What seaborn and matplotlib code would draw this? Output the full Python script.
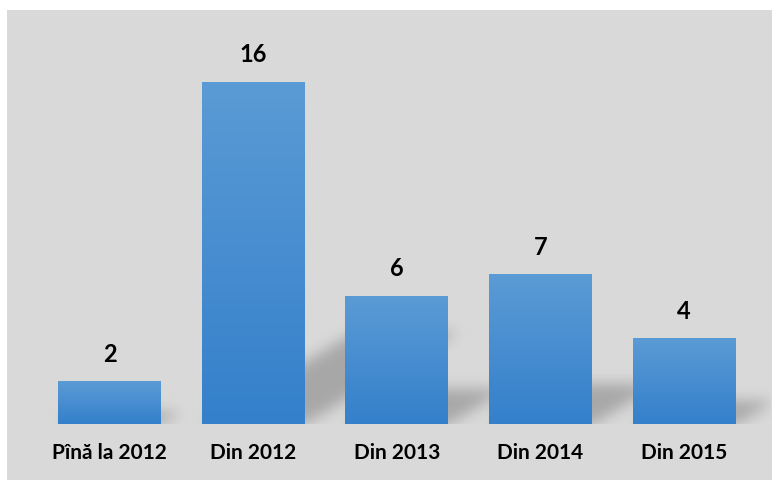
import numpy as np
import pandas as pd
import matplotlib
matplotlib.use("Agg")
import matplotlib.pyplot as plt
import seaborn as sns
from matplotlib.patches import Rectangle
from matplotlib.path import Path
from matplotlib.colors import LinearSegmentedColormap

categories = ["Pînă la 2012", "Din 2012", "Din 2013", "Din 2014", "Din 2015"]
values = [2, 16, 6, 7, 4]

df = pd.DataFrame({"cat": categories, "val": values})

sns.set_theme(style="white")
plt.rcParams["font.family"] = ["Lato", "DejaVu Sans"]

W, H = 772, 481
fig = plt.figure(figsize=(W / 100, H / 100), dpi=100, facecolor="white")
# grey panel
panel = Rectangle((7 / W, 0), 1 - 7 / W, (H - 11) / H,
                  transform=fig.transFigure, facecolor="#d9d9d9",
                  edgecolor="none", zorder=-5)
fig.add_artist(panel)

ax_l, ax_r = 37.7, 755.8
ax_top, ax_bot = 11, 425
ax = fig.add_axes([ax_l / W, (H - ax_bot) / H, (ax_r - ax_l) / W, (ax_bot - ax_top) / H])
ax.set_facecolor("none")
ax.set_zorder(1)

px_per_unit = 21.4
ymax = (ax_bot - ax_top) / px_per_unit
n = len(categories)

sns.barplot(data=df, x="cat", y="val", ax=ax, width=0.717, color="#5b9bd5",
            saturation=1, zorder=3)
ax.set_xlim(-0.5, n - 0.5)
ax.set_ylim(0, ymax)

# gradient fill of bars
cmap = LinearSegmentedColormap.from_list("g", ["#3480cb", "#5b9bd5"])
grad = np.linspace(0, 1, 256).reshape(-1, 1)
for p in list(ax.patches):
    x0, y0 = p.get_x(), p.get_y()
    w, h = p.get_width(), p.get_height()
    im = ax.imshow(grad, cmap=cmap, origin="lower", aspect="auto",
                   extent=(x0, x0 + w, y0, y0 + h), zorder=3)
    im.set_clip_path(p)
    p.set_facecolor("none")
    p.set_edgecolor("none")

# soft cast shadows (extend a little beyond the axes on the right)
cat_px = (ax_r - ax_l) / n
extra_px = 14
x_hi = n - 0.5 + extra_px / cat_px
nx = int(round(ax_r - ax_l + extra_px))
ny = int(round(ax_bot - ax_top))
xs = -0.5 + (np.arange(nx) + 0.5) / nx * (x_hi + 0.5)
ys = ymax * (1 - (np.arange(ny) + 0.5) / ny)
XX, YY = np.meshgrid(xs, ys)
pts = np.column_stack([XX.ravel(), YY.ravel()])
mask = np.zeros(XX.shape)
for p in ax.patches:
    x0, w, h = p.get_x(), p.get_width(), p.get_height()
    dx = 0.45 * h * px_per_unit / cat_px
    dy = 0.27 * h
    poly = Path([(x0, 0), (x0 + w, 0), (x0 + w + dx, dy), (x0 + dx, dy), (x0, 0)])
    mask = np.maximum(mask, poly.contains_points(pts).reshape(XX.shape).astype(float))
sig = 7
k = np.exp(-0.5 * (np.arange(-3 * sig, 3 * sig + 1) / sig) ** 2)
k /= k.sum()
mask = np.apply_along_axis(lambda r: np.convolve(r, k, mode="same"), 1, mask)
mask = np.apply_along_axis(lambda c: np.convolve(c, k, mode="same"), 0, mask)
rgba = np.zeros(mask.shape + (4,))
rgba[..., 3] = mask * 0.23
sh = ax.imshow(rgba, origin="upper", aspect="auto",
               extent=(-0.5, x_hi, 0, ymax), zorder=1)
sh.set_clip_on(False)
ax.set_xlim(-0.5, n - 0.5)
ax.set_ylim(0, ymax)

for i, v in enumerate(values):
    ax.annotate(str(v), (i, v), xytext=(0, 12), textcoords="offset points",
                ha="center", va="bottom", fontsize=17, fontweight="bold",
                color="black")

ax.set_xlabel("")
ax.set_ylabel("")
ax.set_yticks([])
ax.tick_params(axis="x", length=0, pad=13)
for t in ax.get_xticklabels():
    t.set_fontsize(15)
    t.set_fontweight("bold")
    t.set_color("black")
for s in ax.spines.values():
    s.set_visible(False)

fig.savefig("out.png", dpi=100, facecolor="white")
